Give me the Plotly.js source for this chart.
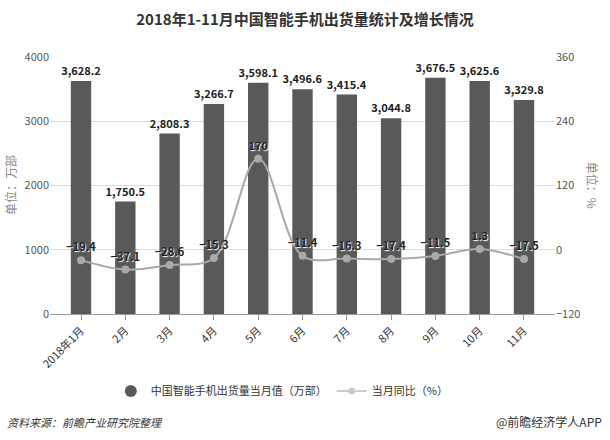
<!DOCTYPE html>
<html><head><meta charset="utf-8">
<script src="https://cdn.plot.ly/plotly-3.0.1.min.js"></script>
<style>html,body{margin:0;padding:0;background:#fff;}#chart{width:610px;height:440px;}</style>
</head><body><div id="chart"></div>
<script>
const categories = ['2018年1月','2月','3月','4月','5月','6月','7月','8月','9月','10月','11月'];
const shipments = [3628.2, 1750.5, 2808.3, 3266.7, 3598.1, 3496.6, 3415.4, 3044.8, 3676.5, 3625.6, 3329.8];
const yoy = [-19.4, -37.1, -28.6, -15.3, 170, -11.4, -16.3, -17.4, -11.5, 1.3, -17.5];
const barName = '中国智能手机出货量当月值（万部）';
const lineName = '当月同比（%）';
const leftTicks = [0, 1000, 2000, 3000, 4000];
const rightTicks = [-120, 0, 120, 240, 360];

const FONT = '"Noto Sans CJK SC", "Noto Sans", sans-serif';
const barColor = '#595959';
const lineColor = '#a9a9a9';

const traces = [
  {type:'bar', x:categories, y:shipments, name:barName, showlegend:false,
   marker:{color:barColor}, width:0.46,
   texttemplate:'<b>%{y:,.1f}</b>', textposition:'outside', constraintext:'none',
   textfont:{family:FONT, size:11, color:'#222'}, cliponaxis:false, hoverinfo:'none'},
  {type:'scatter', mode:'lines+markers+text', x:categories, y:yoy, yaxis:'y2', name:lineName, showlegend:false,
   line:{color:lineColor, width:2, shape:'spline', smoothing:1},
   marker:{color:lineColor, size:8},
   texttemplate:'<b>%{y}</b>', textposition:'top center',
   textfont:{family:FONT, size:11, color:'#222', shadow:'1px 1px 1px #fff'}, cliponaxis:false},
  {type:'scatter', mode:'markers', x:[null], y:[null], name:barName,
   marker:{color:barColor, size:12, symbol:'circle'}},
  {type:'scatter', mode:'lines+markers', x:[null], y:[null], name:lineName, yaxis:'y2',
   line:{color:'#cccccc', width:2}, marker:{color:'#cccccc', size:7}}
];

const layout = {
  width:610, height:440,
  margin:{l:50, r:55, t:57, b:126},
  paper_bgcolor:'#fff', plot_bgcolor:'#fff',
  font:{family:FONT, color:'#555', size:11},
  title:{text:'<b>2018年1-11月中国智能手机出货量统计及增长情况</b>', x:0.5, xanchor:'center', y:0.955, yanchor:'middle',
         font:{family:FONT, size:15, color:'#333'}},
  xaxis:{type:'category', range:[-0.7, 10.7], tickangle:-45, ticks:'outside', ticklen:5, tickcolor:'#999',
         showline:true, linecolor:'#999', linewidth:1, showgrid:false,
         tickfont:{family:FONT, size:11, color:'#333'}},
  yaxis:{range:[0,4000], tickvals:leftTicks, showgrid:true, gridcolor:'#dcdcdc', zeroline:false,
         showline:false, ticks:'', tickfont:{family:FONT, size:11, color:'#555'}},
  yaxis2:{range:[-120,360], tickvals:rightTicks, overlaying:'y', side:'right', showgrid:false, zeroline:false,
          showline:false, ticks:'', tickfont:{family:FONT, size:11, color:'#555'}},
  bargap:0.5,
  legend:{orientation:'h', x:0.46, xanchor:'center', y:-0.30, yanchor:'middle',
          font:{family:FONT, size:11, color:'#333'}, itemwidth:30},
  annotations:[
    {text:'单位：万部', xref:'paper', yref:'paper', x:-0.078, xanchor:'center', y:0.5, textangle:-90, showarrow:false,
     font:{family:FONT, size:12, color:'#888'}},
    {text:'单位：%', xref:'paper', yref:'paper', x:1.075, xanchor:'center', y:0.5, textangle:90, showarrow:false,
     font:{family:FONT, size:12, color:'#888'}},
    {text:'<i>资料来源：前瞻产业研究院整理</i>', xref:'paper', yref:'paper', x:-0.09, xanchor:'left',
     y:-0.42, yanchor:'middle', showarrow:false, font:{family:FONT, size:11, color:'#333'}},
    {text:'@前瞻经济学人APP', xref:'paper', yref:'paper', x:1.098, xanchor:'right',
     y:-0.42, yanchor:'middle', showarrow:false, font:{family:FONT, size:12, color:'#333'}}
  ]
};
Plotly.newPlot('chart', traces, layout, {displayModeBar:false, staticPlot:true});
</script></body></html>
